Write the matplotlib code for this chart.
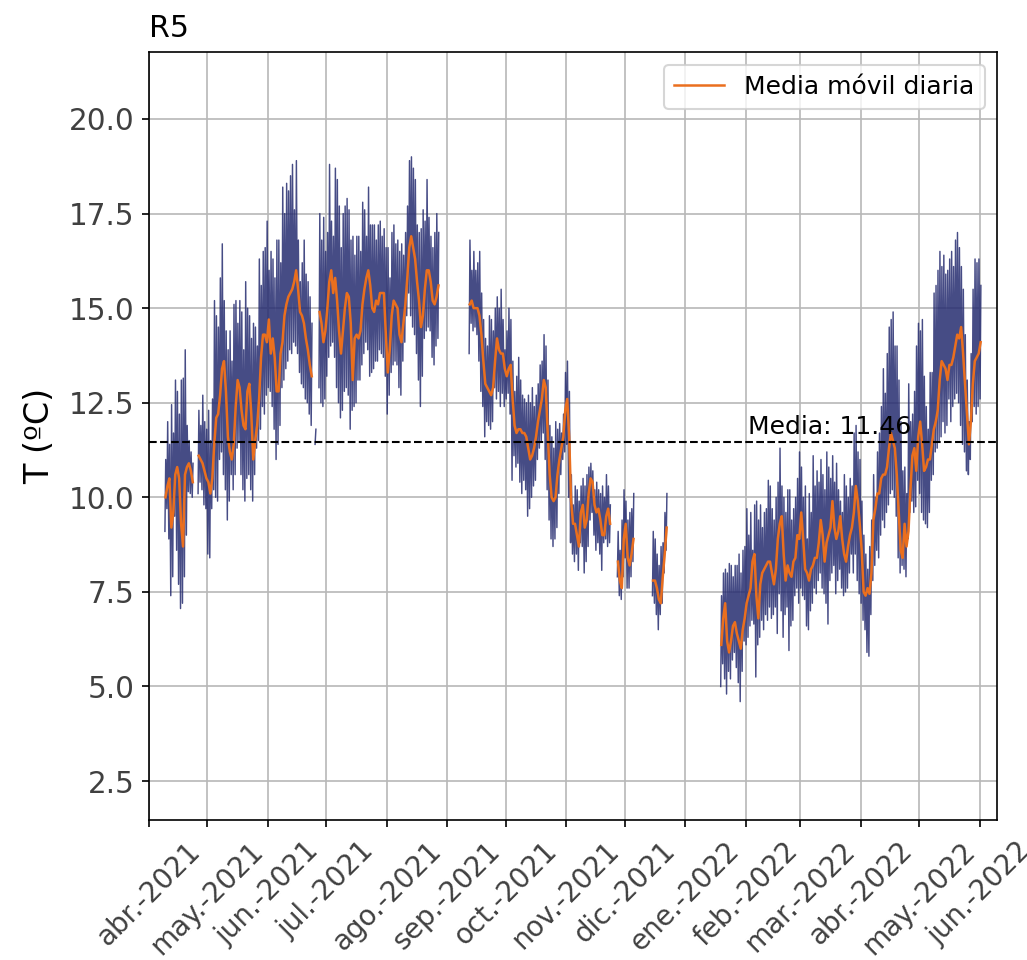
import matplotlib
matplotlib.use('Agg')
import matplotlib.pyplot as plt
import numpy as np
import pandas as pd

nan = np.nan

# first logged day; every list below has one value per day from here on
start_day = '2021-04-09'
mean_temp = 11.46

# daily minimum temperature (ºC), nan = sensor without data
t_min = ([9.1, 9.7, 8.9, 7.4, 7.9, 9.5, 8.6, 7.7, 7.06, 7.2,
          7.9, 9.0, 10.15, 10.1, 10.0]
         + [nan] * 2 +
         [10.1, 10.4, 10.2, 9.8, 9.7, 8.5, 8.4, 9.7, 10.2, 10.0,
          9.9, 11.0, 11.2, 10.6, 10.2, 9.4, 9.9, 10.6, 10.2, 10.6,
          11.3, 11.5, 10.6, 10.2, 9.9, 10.5, 10.6, 10.2, 9.9, 10.6,
          11.3, 11.5, 11.8, 12.4, 12.2, 12.7, 12.9, 12.8, 12.4, 11.8,
          11.0, 11.4, 11.9, 12.9, 13.1, 13.4, 13.6, 13.9, 13.8, 14.1,
          14.0, 13.8, 13.3, 13.0, 12.9, 12.6, 12.5, 12.2, 11.9]
         + [nan] + [11.4] + [nan] +
         [12.9, 12.5, 12.4, 12.6, 13.2, 13.7, 14.0, 14.1, 13.7, 12.9,
          12.5, 12.1, 12.3, 12.8, 12.9, 12.7, 11.8, 12.3, 12.4, 12.5,
          13.1, 13.1, 13.5, 13.8, 14.1, 13.9, 13.2, 13.3, 13.4, 13.6,
          13.6, 13.9, 13.8, 13.7, 13.2, 12.2, 12.7, 13.3, 13.5, 13.6,
          13.5, 12.9, 12.7, 13.6, 14.1, 14.8, 15.4, 14.8, 14.5, 14.3,
          13.8, 13.1, 12.4, 13.2, 14.2, 14.4, 14.5, 14.4, 13.7, 13.5,
          14.0, 14.2]
         + [nan] * 15 +
         [13.8, 14.6, 14.4, 14.5, 14.3, 13.6, 12.8, 12.4, 11.6, 12.0,
          11.9, 11.8, 12.0, 12.9, 12.6, 12.8, 12.4, 12.75, 12.4, 12.6,
          12.75, 12.2, 10.45, 11.1, 10.8, 10.9, 10.4, 10.1, 10.45, 10.2,
          9.5, 9.7, 10.0, 10.3, 10.45, 11.0, 11.3, 11.5, 11.7, 11.0,
          10.2, 9.4, 8.9, 8.7, 8.9, 9.2, 10.1, 10.6, 11.0, 11.2,
          11.4, 10.0, 8.8, 8.5, 8.3, 8.5, 8.07, 8.8, 8.7, 8.0,
          8.3, 8.7, 9.4, 9.6, 9.0, 8.6, 8.8, 8.5, 8.07, 8.8,
          8.9, 8.7, 8.8]
         + [nan] * 3 +
         [7.9, 7.4, 7.3, 7.9, 8.4, 7.6, 7.6, 7.9, 8.3]
         + [nan] * 9 +
         [7.4, 7.2, 6.9, 6.5, 6.9, 7.2, 8.0, 8.6]
         + [nan] * 27 +
         [5.0, 5.6, 5.2, 4.8, 5.4, 5.2, 5.7, 5.9, 5.5, 5.1,
          4.6, 5.4, 6.2, 6.1, 6.3, 6.6, 6.75, 6.65, 5.25, 6.1,
          6.3, 6.75, 6.5, 6.9, 6.75, 7.1, 6.8, 6.9, 7.1, 6.4,
          7.45, 7.0, 6.3, 6.9, 7.1, 5.95, 6.6, 6.75, 7.4, 7.6,
          7.2, 7.6, 7.4, 7.3, 6.6, 6.5, 7.0, 7.2, 7.6, 7.45,
          7.8, 8.0, 7.6, 7.45, 7.2, 6.65, 7.8, 8.0, 8.2, 7.45,
          7.8, 8.1, 7.6, 7.4, 7.5, 7.6, 8.0, 8.5, 8.0, 8.5,
          7.8, 7.45, 7.2, 6.75, 6.5, 5.9, 5.8, 6.9, 7.8, 8.2,
          8.6, 8.4, 9.0, 9.4, 9.2, 9.6, 9.8, 10.1, 10.2, 10.0,
          9.5, 8.4, 8.0, 8.2, 8.1, 7.9, 8.9, 9.6, 9.9, 9.6,
          9.75, 10.45, 10.1, 9.6, 9.4, 9.3, 9.2, 9.6, 10.45, 10.6,
          11.2, 11.3, 11.5, 11.6, 12.0, 11.7, 11.9, 12.6, 12.0, 12.4,
          12.6, 12.75, 12.5, 11.9, 11.4, 11.2, 10.7, 10.6, 11.0, 12.0,
          12.4, 12.2, 12.4, 12.6])

# daily maximum temperature (ºC)
t_max = ([11.0, 12.0, 11.4, 12.45, 11.7, 13.1, 12.8, 12.2, 13.1, 13.15,
          13.9, 11.9, 11.5, 11.2, 10.9]
         + [nan] * 2 +
         [12.3, 11.9, 12.7, 12.0, 11.8, 12.3, 11.5, 12.6, 15.2, 14.8,
          14.5, 15.8, 16.7, 15.2, 14.4, 13.9, 14.4, 13.6, 15.1, 15.2,
          14.6, 15.2, 14.9, 13.9, 15.7, 15.0, 14.8, 14.2, 14.6, 14.5,
          14.0, 16.3, 15.6, 16.5, 16.6, 17.3, 16.0, 16.5, 16.3, 15.8,
          16.8, 16.8, 16.2, 18.2, 17.5, 18.3, 18.1, 18.5, 18.8, 17.6,
          18.9, 16.8, 15.7, 16.2, 16.8, 15.9, 15.7, 15.3, 14.6]
         + [nan] + [11.8] + [nan] +
         [17.5, 16.8, 17.4, 16.5, 17.0, 18.8, 17.3, 16.9, 18.7, 18.4,
          17.7, 16.6, 17.5, 17.7, 17.9, 17.6, 16.8, 16.9, 16.4, 16.9,
          16.9, 16.5, 17.8, 17.6, 16.9, 18.2, 17.2, 17.2, 17.2, 16.8,
          17.2, 17.3, 16.9, 17.1, 16.6, 16.6, 15.8, 17.0, 17.2, 16.7,
          16.8, 16.5, 16.7, 16.4, 17.0, 17.7, 18.9, 19.0, 18.7, 18.4,
          17.2, 17.0, 17.1, 17.6, 17.3, 18.4, 17.4, 16.9, 16.6, 17.0,
          17.5, 17.0]
         + [nan] * 15 +
         [16.8, 16.0, 16.5, 16.0, 16.2, 16.5, 15.4, 14.7, 14.2, 14.0,
          14.8, 14.7, 14.4, 15.0, 15.3, 15.0, 15.5, 14.7, 13.9, 14.4,
          15.0, 14.7, 13.6, 12.8, 13.2, 13.7, 13.1, 12.7, 12.6, 12.5,
          12.7, 12.5, 12.9, 12.4, 12.7, 13.0, 13.5, 13.6, 14.3, 14.0,
          13.1, 11.9, 11.6, 11.3, 12.0, 11.8, 11.95, 11.7, 12.2, 13.3,
          13.6, 12.8, 10.6, 9.8, 10.3, 10.2, 9.9, 10.3, 10.5, 10.3,
          10.6, 10.8, 10.9, 10.7, 10.2, 10.4, 10.2, 10.1, 10.3, 10.0,
          10.6, 10.3, 9.8]
         + [nan] * 3 +
         [9.1, 8.6, 9.4, 10.2, 9.9, 9.4, 9.6, 9.7, 10.1]
         + [nan] * 9 +
         [9.1, 8.9, 8.5, 8.2, 8.7, 8.8, 9.6, 10.1]
         + [nan] * 27 +
         [7.4, 8.0, 8.1, 8.0, 8.25, 8.2, 7.9, 8.2, 8.2, 8.5,
          8.0, 8.6, 8.7, 9.7, 9.0, 9.6, 8.6, 9.8, 9.9, 9.4,
          9.8, 9.2, 9.6, 9.7, 10.45, 10.3, 9.7, 9.4, 10.0, 10.4,
          11.3, 10.3, 10.0, 9.6, 10.2, 10.2, 9.4, 9.7, 10.0, 10.5,
          11.2, 10.8, 10.0, 10.3, 8.9, 10.1, 9.6, 11.1, 10.3, 10.7,
          10.4, 11.0, 10.6, 10.2, 11.2, 10.8, 10.5, 11.1, 10.4, 10.9,
          10.2, 9.9, 9.6, 10.6, 10.3, 10.0, 10.5, 10.3, 11.7, 11.9,
          11.2, 11.0, 9.9, 9.0, 8.5, 8.1, 8.7, 9.4, 10.6, 10.0,
          11.2, 11.7, 12.4, 13.4, 12.75, 13.8, 14.5, 14.7, 14.9, 14.0,
          14.0, 13.1, 12.0, 10.7, 10.8, 10.1, 13.0, 12.0, 12.2, 12.8,
          14.0, 14.6, 14.4, 14.7, 13.2, 12.4, 11.8, 13.3, 13.3, 15.4,
          15.6, 16.0, 16.5, 16.1, 16.4, 15.9, 16.0, 16.3, 16.5, 16.1,
          16.8, 17.0, 16.6, 16.1, 15.5, 14.3, 13.1, 12.0, 13.8, 15.5,
          16.3, 16.2, 16.3, 15.6])

# daily moving average (ºC)
t_mean = ([10.0, 10.3, 10.5, 9.2, 9.6, 10.6, 10.8, 10.5, 9.3, 8.7,
           10.6, 10.8, 10.9, 10.7, 10.4]
          + [nan] * 2 +
          [11.1, 11.0, 10.9, 10.7, 10.5, 10.4, 10.1, 10.5, 11.4, 12.1,
           12.2, 12.7, 13.4, 13.6, 12.8, 11.6, 11.2, 11.0, 11.4, 12.4,
           13.1, 12.9, 12.3, 11.9, 11.8, 12.8, 13.0, 12.2, 11.0, 11.5,
           11.9, 12.6, 13.7, 14.3, 14.3, 14.1, 14.7, 13.8, 14.2, 13.7,
           12.8, 12.8, 13.8, 14.1, 14.8, 15.1, 15.3, 15.4, 15.5, 15.7,
           16.0, 15.5, 14.9, 14.8, 14.6, 14.2, 13.9, 13.5, 13.2]
          + [nan] + [11.6] + [nan] +
          [14.9, 14.6, 14.1, 14.4, 15.0, 15.7, 16.0, 15.4, 15.8, 15.2,
           14.4, 13.8, 14.4, 15.0, 15.4, 15.3, 14.6, 13.1, 14.2, 14.3,
           14.2, 14.4, 15.1, 15.5, 15.8, 16.0, 15.6, 15.0, 14.9, 15.2,
           15.1, 15.4, 15.4, 15.4, 14.3, 13.3, 13.9, 14.8, 15.2, 15.1,
           15.0, 14.3, 14.1, 14.6, 15.1, 15.8, 16.6, 16.9, 16.6, 16.3,
           15.7, 15.2, 14.5, 14.8, 15.5, 16.0, 16.0, 15.7, 15.2, 15.1,
           15.3, 15.6]
          + [nan] * 15 +
          [15.1, 15.2, 15.0, 15.0, 15.0, 14.8, 14.3, 13.6, 13.0, 12.9,
           12.8, 12.7, 12.9, 13.6, 14.2, 13.9, 13.8, 13.8, 13.4, 13.2,
           13.4, 13.5, 12.6, 11.9, 11.7, 11.8, 11.8, 11.7, 11.7, 11.6,
           11.3, 11.0, 11.1, 11.3, 11.6, 12.0, 12.3, 12.6, 13.1, 12.9,
           11.7, 10.6, 10.0, 9.9, 10.0, 10.6, 11.0, 11.3, 11.6, 12.3,
           12.6, 11.6, 9.9, 9.3, 9.3, 9.0, 8.7, 9.6, 9.8, 9.2,
           9.4, 10.1, 10.5, 10.4, 9.8, 9.6, 9.7, 9.4, 9.0, 9.0,
           9.5, 9.7, 9.3]
          + [nan] * 3 +
          [8.3, 7.8, 7.6, 8.9, 9.3, 8.4, 8.2, 8.5, 8.9]
          + [nan] * 9 +
          [7.8, 7.8, 7.6, 7.3, 7.2, 7.9, 8.5, 9.2]
          + [nan] * 27 +
          [6.1, 6.8, 7.2, 6.2, 5.9, 6.2, 6.6, 6.7, 6.4, 6.2,
           6.0, 6.5, 6.8, 7.2, 7.4, 7.6, 8.3, 8.5, 7.4, 6.8,
           7.7, 8.0, 8.1, 8.2, 8.3, 8.3, 8.0, 7.7, 8.1, 8.9,
           9.3, 9.5, 8.5, 7.8, 8.2, 8.0, 7.9, 8.3, 8.4, 9.0,
           8.9, 9.6, 8.9, 8.1, 8.0, 7.8, 8.1, 8.2, 8.4, 8.4,
           8.8, 9.4, 9.0, 8.3, 8.8, 9.0, 9.2, 9.9, 9.2, 8.9,
           9.1, 9.5, 8.9, 8.5, 8.3, 8.7, 9.0, 9.2, 9.6, 10.3,
           9.9, 9.3, 8.6, 7.5, 7.4, 7.6, 7.45, 8.0, 9.4, 9.7,
           10.1, 10.1, 10.5, 10.6, 10.6, 10.8, 11.3, 11.7, 11.5, 11.3,
           10.6, 9.6, 8.6, 8.4, 9.3, 8.7, 9.1, 10.2, 11.1, 11.3,
           10.7, 11.6, 12.0, 11.4, 10.7, 10.8, 11.0, 11.0, 11.4, 11.8,
           12.0, 12.3, 13.1, 13.6, 13.5, 13.4, 13.1, 13.5, 13.5, 13.7,
           14.0, 14.3, 14.2, 14.5, 13.8, 13.0, 12.2, 11.4, 12.0, 13.0,
           13.6, 13.7, 13.8, 14.1])

month_ticks = pd.date_range('2021-04-01', '2022-06-01', freq='MS')
month_labels = ['abr.-2021', 'may.-2021', 'jun.-2021', 'jul.-2021', 'ago.-2021',
                'sep.-2021', 'oct.-2021', 'nov.-2021', 'dic.-2021', 'ene.-2022',
                'feb.-2022', 'mar.-2022', 'abr.-2022', 'may.-2022', 'jun.-2022']

days = pd.date_range(start_day, periods=len(t_mean), freq='D')

# temperature trace: night minimum then afternoon maximum of each day
trace_x = np.empty(2 * len(days), dtype='datetime64[ns]')
trace_x[0::2] = (days + pd.Timedelta(hours=5)).values
trace_x[1::2] = (days + pd.Timedelta(hours=15)).values
trace_y = np.empty(2 * len(days))
trace_y[0::2] = t_min
trace_y[1::2] = t_max

fig, ax = plt.subplots(figsize=(1027 / 150, 960 / 150), dpi=150)
fig.subplots_adjust(left=0.145, right=0.971, top=0.9458, bottom=0.1458)

ax.plot(trace_x, trace_y, color='#262c70', lw=0.7, alpha=0.85)
ax.plot(days + pd.Timedelta(hours=12), t_mean, color='#ea6f1e', lw=1.2,
        label='Media móvil diaria')
ax.axhline(mean_temp, color='black', ls='--', lw=1.0)
ax.text(pd.Timestamp('2022-02-02'), mean_temp + 0.08, f'Media: {mean_temp:.2f}',
        fontsize=12, va='bottom', ha='left')

ax.set_xticks(month_ticks)
ax.set_xticklabels(month_labels, rotation=45)
ax.set_xlim(pd.Timestamp('2021-04-01'), pd.Timestamp('2022-06-10'))
ax.set_ylim(1.47, 21.77)
ax.set_yticks([2.5, 5.0, 7.5, 10.0, 12.5, 15.0, 17.5, 20.0])
ax.tick_params(axis='x', labelsize=13.4, labelcolor='#404040', pad=4.5)
ax.tick_params(axis='y', labelsize=14.2, labelcolor='#404040')

ax.grid(True, color='#b8b8b8', lw=0.8)
ax.set_ylabel('T (ºC)', fontsize=16, labelpad=6)
ax.set_title('R5', loc='left', fontsize=14.4, pad=7)
ax.legend(loc='upper right', fontsize=12)

plt.savefig('out.png', dpi=150)
